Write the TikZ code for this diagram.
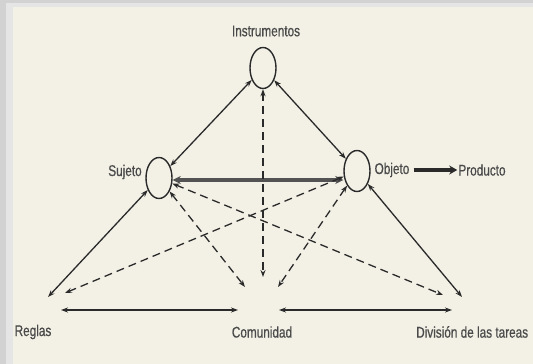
\documentclass[tikz,border=0pt]{standalone}
\usepackage{fontspec}
\setmainfont[FakeStretch=0.76,FakeBold=0.6]{Liberation Sans}
\usetikzlibrary{shapes.geometric,arrows.meta}
\definecolor{paper}{HTML}{F3F1E6}
\definecolor{ink}{HTML}{2A2A2A}
\tikzset{
  pole/.style={draw=ink, ellipse, line width=1.4pt, minimum width=26pt, minimum height=41pt, inner sep=0pt},
  lbl/.style={text=ink!85, font=\fontsize{15.5}{16}\selectfont, inner sep=1pt},
  both/.style={{Stealth[length=7pt,width=5pt]}-{Stealth[length=7pt,width=5pt]}, draw=ink, line width=1.3pt},
  dashlink/.style={both, dash pattern=on 8pt off 5pt}
}
\begin{document}
\begin{tikzpicture}[x=1pt,y=-1pt]
\useasboundingbox (0,0) rectangle (533,364);
\fill[gray!35] (0,0) rectangle (533,364);
\fill[gray!20] (6,3) rectangle (533,364);
\fill[paper] (13,7) rectangle (533,364);

\node[pole] (ins) at (263,68) {};
\node[pole] (suj) at (159,178) {};
\node[pole] (obj) at (357,171) {};

\node[lbl] (tins) at (266,31) {Instrumentos};
\node[lbl] (tsuj) at (125,172) {Sujeto};
\node[lbl] (tobj) at (392,170) {Objeto};
\node[lbl] (tpro) at (482,170) {Producto};
\node[lbl] (treg) at (33,332) {Reglas};
\node[lbl] (tcom) at (262,332) {Comunidad};
\node[lbl, anchor=west] (tdiv) at (415,332) {División de las tareas};

\coordinate (reg) at (48,297);
\coordinate (regd) at (65,293);
\coordinate (regb) at (61,310);
\coordinate (coml) at (245,287);
\coordinate (comm) at (263,277);
\coordinate (comr) at (278,287);
\coordinate (combl) at (238,310);
\coordinate (combr) at (279,310);
\coordinate (div) at (462,297);
\coordinate (divd) at (443,295);
\coordinate (divb) at (452,310);

% triangle edges
\draw[both] (ins) -- (suj);
\draw[both] (ins) -- (obj);
\draw[both] (suj) -- (reg);
\draw[both] (obj) -- (div);
\draw[both, draw=gray!65!black, line width=4pt, {Stealth[length=8pt,width=8pt]}-{Stealth[length=8pt,width=8pt]}] (suj.east |- 0,180) -- (obj.west |- 0,180);
\draw[both, line width=2pt] (regb) -- (combl);
\draw[both, line width=2pt] (combr) -- (divb);
\draw[-{Stealth[length=8pt,width=9pt]}, draw=ink, line width=3.5pt] (tobj.east) ++(3,0) -- (tpro.west);

% dashed links
\draw[dashlink] (ins) -- (comm);
\draw[dashlink] (suj) -- (coml);
\draw[dashlink] (obj) -- (comr);
\draw[dashlink] (suj) -- (divd);
\draw[dashlink] (obj) -- (regd);
\end{tikzpicture}
\end{document}
